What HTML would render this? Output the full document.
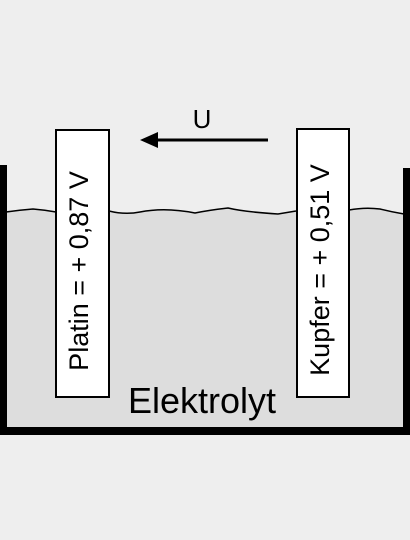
<!DOCTYPE html><html><head><style>body{margin:0;background:#eeeeee}</style></head><body>
<svg width="410" height="540" xmlns="http://www.w3.org/2000/svg" style="display:block">
<rect width="410" height="540" fill="#eeeeee"/>
<path d="M6,212 Q20,210 33,209 Q45,210 56,212 L109,211 Q125,215 140,212 Q165,207 195,213 Q210,210 228,208 Q245,212 278,214 L296,211 L349,210 Q365,207 380,209 Q392,212 404,214 L404,428 L6,428 Z" fill="#dddddd"/>
<path d="M6,212 Q20,210 33,209 Q45,210 56,212 M109,211 Q125,215 140,212 Q165,207 195,213 Q210,210 228,208 Q245,212 278,214 L296,211 M349,210 Q365,207 380,209 Q392,212 404,214" fill="none" stroke="#000" stroke-width="1.5"/>
<rect x="0" y="165" width="7" height="270" fill="#000"/>
<rect x="403" y="168" width="7" height="267" fill="#000"/>
<rect x="0" y="427" width="410" height="8" fill="#000"/>
<rect x="56" y="130" width="53" height="267" fill="#fff" stroke="#000" stroke-width="2"/>
<rect x="297" y="129" width="52" height="268" fill="#fff" stroke="#000" stroke-width="2"/>
<text transform="translate(88,271) rotate(-90)" text-anchor="middle" font-family="Liberation Sans, sans-serif" font-size="27">Platin = + 0,87 V</text>
<text transform="translate(329,270) rotate(-90)" text-anchor="middle" font-family="Liberation Sans, sans-serif" font-size="27">Kupfer = + 0,51 V</text>
<line x1="155" y1="140" x2="268" y2="140" stroke="#000" stroke-width="3"/>
<polygon points="140,140 158,132 158,148" fill="#000"/>
<text x="202" y="128" text-anchor="middle" font-family="Liberation Sans, sans-serif" font-size="26">U</text>
<text x="202" y="413" text-anchor="middle" font-family="Liberation Sans, sans-serif" font-size="36">Elektrolyt</text>
</svg>
</body></html>
